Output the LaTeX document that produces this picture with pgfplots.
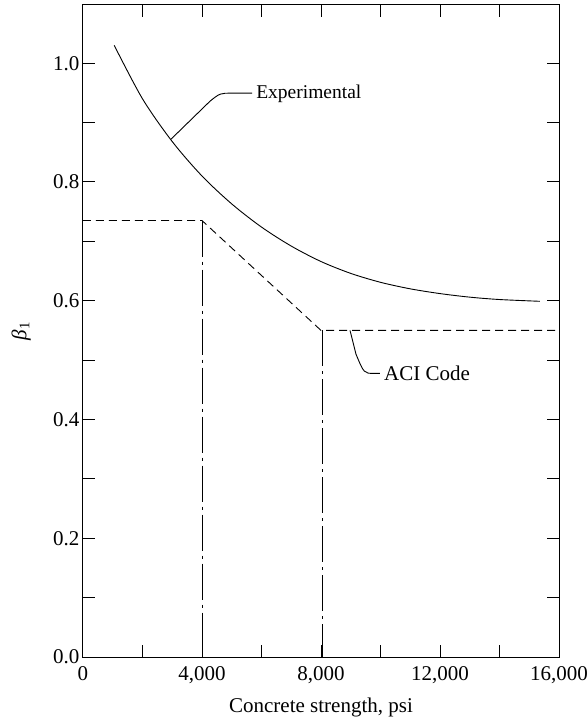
\documentclass[border=0pt]{standalone}
\usepackage{fontspec}
\setmainfont{Liberation Serif}
\usepackage{pgfplots}
\pgfplotsset{compat=1.18}

\begin{document}
\begin{tikzpicture}
	\begin{axis}[
		scale only axis,
		width=476pt,
		height=652pt,
		xmin=0, xmax=16000,
		ymin=0, ymax=1.098,
		axis line style={line width=1pt},
		tick style={line width=1pt, black},
		tick align=inside,
		major tick length=12pt,
		minor tick length=12pt,
		xtick={0,4000,8000,12000,16000},
		minor x tick num=1,
		ytick={0,0.2,0.4,0.6,0.8,1.0},
		minor y tick num=1,
		scaled ticks=false,
		xticklabel style={/pgf/number format/1000 sep={,}, yshift=-6pt},
		yticklabel style={/pgf/number format/fixed, /pgf/number format/precision=1, /pgf/number format/fixed zerofill},
		/pgf/number format/assume math mode=true,
		tick label style={font=\fontsize{21}{24}\selectfont},
		label style={font=\fontsize{21}{24}\selectfont},
		xlabel={Concrete strength, psi},
		ylabel={\textit{β}\textsubscript{1}},
		xlabel style={at={(axis description cs:0.5,-0.0767)}, anchor=center},
		ylabel style={at={(axis description cs:-0.130,0.5)}, anchor=center},
		clip=false]

		% experimental curve
		\addplot[black, line width=0.9pt, smooth] coordinates {
			(1050,1.030)
			(2000,0.940)
			(3000,0.868)
			(4000,0.810)
			(5000,0.763)
			(6000,0.724)
			(7000,0.692)
			(8000,0.666)
			(9000,0.646)
			(10000,0.631)
			(11000,0.620)
			(12000,0.612)
			(13000,0.606)
			(14000,0.602)
			(15360,0.599)
		};

		% ACI code
		\addplot[black, line width=0.9pt, dash pattern=on 8pt off 5pt] coordinates {
			(0,0.735)
			(4000,0.735)
			(8000,0.55)
			(16000,0.55)
		};

		% dash-dot verticals
		\addplot[black, line width=0.9pt, dash pattern=on 36pt off 5pt on 3pt off 5pt] coordinates {
			(4000,0.735)
			(4000,0)
		};
		\addplot[black, line width=0.9pt, dash pattern=on 36pt off 5pt on 3pt off 5pt] coordinates {
			(8050,0.55)
			(8050,0)
		};

		% leaders and labels
		\draw[line width=0.9pt] (axis cs:2958,0.872) -- (axis cs:4269,0.936)
			.. controls (axis cs:4605,0.9495) .. (axis cs:5008,0.9495) -- (axis cs:5681,0.9495);
		\node[anchor=west, inner sep=2pt, font=\fontsize{19.5}{22}\selectfont] at (axis cs:5750,0.948) {Experimental};

		\draw[line width=0.9pt] (axis cs:8975,0.55) -- (axis cs:9176,0.510)
			.. controls (axis cs:9445,0.4776) .. (axis cs:9782,0.4776) -- (axis cs:9983,0.4776);
		\node[anchor=west, inner sep=2pt, font=\fontsize{21}{24}\selectfont] at (axis cs:10050,0.478) {ACI Code};
	\end{axis}
	\pgfresetboundingbox
	\path (-83pt,-63pt) rectangle (504pt,657pt);
\end{tikzpicture}
\end{document}
